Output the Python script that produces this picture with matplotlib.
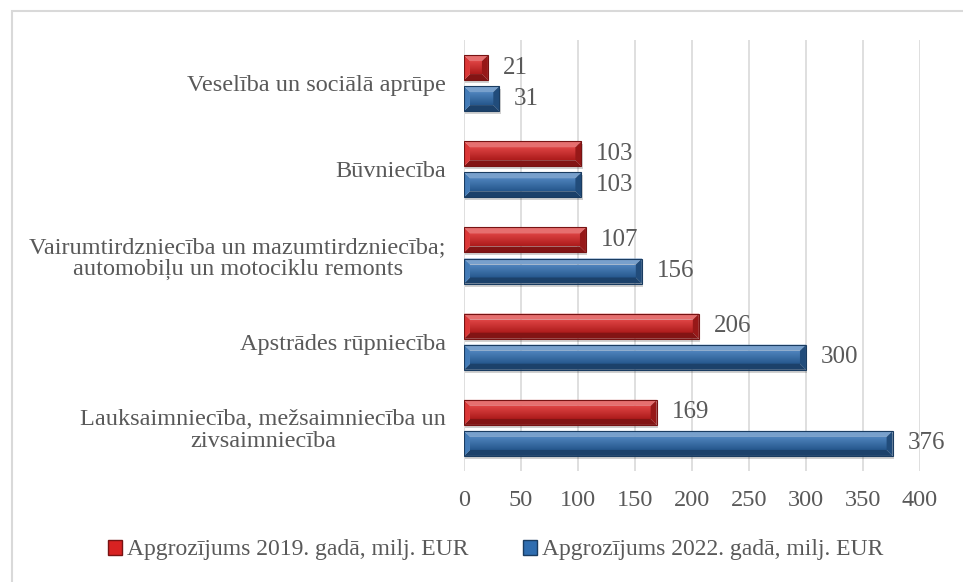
import matplotlib.pyplot as plt
import matplotlib.patches as mpatches
from matplotlib.colors import to_rgb
import numpy as np

plt.rcParams['font.family'] = ['Liberation Serif', 'DejaVu Serif']

# Nozares (no apakšas uz augšu) un apgrozījums, milj. EUR
categories = [
    'Lauksaimniecība, mežsaimniecība un\nzivsaimniecība',
    'Apstrādes rūpniecība',
    'Vairumtirdzniecība un mazumtirdzniecība;\nautomobiļu un motociklu remonts',
    'Būvniecība',
    'Veselība un sociālā aprūpe',
]
turnover_2019 = [169, 206, 107, 103, 21]
turnover_2022 = [376, 300, 156, 103, 31]
label_2019 = 'Apgrozījums 2019. gadā, milj. EUR'
label_2022 = 'Apgrozījums 2022. gadā, milj. EUR'
xticks = [0, 50, 100, 150, 200, 250, 300, 350, 400]

red = '#d82222'
blue = '#2f6db0'
text_col = '#595959'
grid_col = '#d9d9d9'
fs = 17.5
fs_val = 18

fig = plt.figure(figsize=(9.63, 5.82), dpi=100)
ax = fig.add_axes([0.4818, 0.1907, 0.4735, 0.7406])

# light frame around the chart
fig.patches.append(mpatches.Rectangle((12 / 963, -0.05), 1.2, 1 - 11 / 582 + 0.05,
                                      transform=fig.transFigure, fill=False,
                                      edgecolor=grid_col, linewidth=1.5))


def shade(color, f):
    c = np.array(to_rgb(color))
    if f >= 0:
        return tuple(c + (1 - c) * f)
    return tuple(c * (1 + f))


def bevel_bar(ax, y, width, height, color):
    # pixel sizes -> data units for a constant bevel
    px_x = ax.get_window_extent().width / (ax.get_xlim()[1] - ax.get_xlim()[0])
    px_y = ax.get_window_extent().height / abs(ax.get_ylim()[1] - ax.get_ylim()[0])
    b = 6
    dx, dy = b / px_x, b / px_y
    x0, x1 = 0, width
    yb, yt = y - height / 2, y + height / 2
    # soft drop shadow
    ax.add_patch(mpatches.Rectangle((x0 + 1.5 / px_x, yb - 3 / px_y), width, height,
                                    facecolor='black', alpha=0.18, edgecolor='none', zorder=2))
    # face with vertical gradient
    grad = np.linspace(0, 1, 32).reshape(-1, 1)
    top_c = np.array(shade(color, 0.15))
    bot_c = np.array(shade(color, -0.2))
    img = bot_c + (top_c - bot_c) * grad
    ax.imshow(img[:, None, :].repeat(2, axis=1), extent=(x0 + dx, x1 - dx, yb + dy, yt - dy),
              origin='lower', aspect='auto', zorder=3, interpolation='bilinear')
    faces = [
        ([(x0, yt), (x1, yt), (x1 - dx, yt - dy), (x0 + dx, yt - dy)], shade(color, 0.35)),
        ([(x0, yb), (x1, yb), (x1 - dx, yb + dy), (x0 + dx, yb + dy)], shade(color, -0.4)),
        ([(x1, yb), (x1, yt), (x1 - dx, yt - dy), (x1 - dx, yb + dy)], shade(color, -0.3)),
        ([(x0, yb), (x0, yt), (x0 + dx, yt - dy), (x0 + dx, yb + dy)], shade(color, 0.1)),
    ]
    for pts, fc in faces:
        ax.add_patch(mpatches.Polygon(pts, closed=True, facecolor=fc, edgecolor='none', zorder=3))
    ax.add_patch(mpatches.Rectangle((x0, yb), width, height, fill=False,
                                    edgecolor=shade(color, -0.45), linewidth=0.8, zorder=4))


ax.set_xlim(0, 400)
ax.set_ylim(-0.5, len(categories) - 0.5)

pos = np.arange(len(categories))
off = 0.18
h = 0.29
for i in pos:
    for val, dy_, col in [(turnover_2019[i], off, red), (turnover_2022[i], -off, blue)]:
        bevel_bar(ax, i + dy_, val, h, col)
        ax.text(val + 13, i + dy_, f'{val}', va='center', ha='left',
                fontsize=fs_val, color=text_col, zorder=5)

ax.set_xticks(xticks)
ax.set_yticks(pos)
ax.set_yticklabels(categories, multialignment='center', linespacing=1.05)
ax.tick_params(axis='both', length=0, labelsize=fs, labelcolor=text_col)
ax.tick_params(axis='x', pad=14)
ax.tick_params(axis='y', pad=13)
ax.grid(axis='x', color=grid_col, linewidth=1.2, zorder=0)
ax.set_axisbelow(True)
for s in ax.spines.values():
    s.set_visible(False)

handles = [mpatches.Patch(facecolor=red, edgecolor=shade(red, -0.45), label=label_2019),
           mpatches.Patch(facecolor=blue, edgecolor=shade(blue, -0.45), label=label_2022)]
leg = fig.legend(handles=handles, loc='center', bbox_to_anchor=(0.5145, 1 - 550 / 582), ncol=2,
                 frameon=False, fontsize=17, handlelength=0.6, handleheight=0.6,
                 handletextpad=0.2, columnspacing=2.3)
for t in leg.get_texts():
    t.set_color(text_col)

fig.savefig('out.png', dpi=100)
